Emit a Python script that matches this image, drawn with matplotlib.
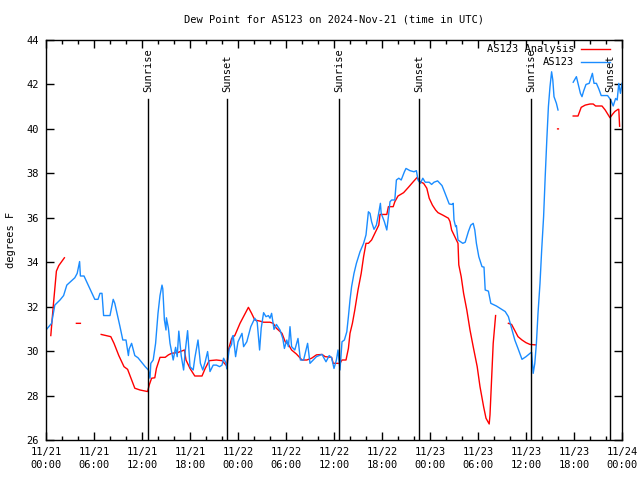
import numpy as np
import pandas as pd
import matplotlib
matplotlib.use('Agg')
import matplotlib.pyplot as plt
import matplotlib.dates as mdates

nan = np.nan
# hours since 2024-11-21 00:00 UTC
obs_hours = [0.0, 0.7, 1.1, 1.75, 2.2, 2.6, 3.2, 3.6, 3.9, 4.2, 4.3, 4.75, 5.5, 6.1, 6.5,
             6.75, 7.0, 7.2, 8.0, 8.4, 8.6, 9.25, 9.6, 10.0, 10.3, 10.4, 10.7, 11.1, 11.5,
             12.4, 12.8, 13.0, 13.1, 13.4, 13.7, 14.0, 14.25, 14.5, 14.6, 14.8, 15.0, 15.05,
             15.3, 15.5, 15.9, 16.2, 16.4, 16.6, 16.9, 17.2, 17.4, 17.7, 18.0, 18.4, 18.6,
             19.0, 19.3, 19.6, 19.9, 20.2, 20.5, 20.9, 21.3, 21.7, 22.0, 22.2, 22.5, 22.6,
             22.9, 23.2, 23.3, 23.4, 23.7, 24.0, 24.5, 24.7, 25.1, 25.6, 26.1, 26.4, 26.7,
             26.9, 27.2, 27.5, 27.8, 28.0, 28.2, 28.5, 28.8, 29.25, 29.6, 29.8, 30.1, 30.3,
             30.5, 30.7, 31.1, 31.5, 31.8, 32.2, 32.5, 32.7, 33.0, 33.4, 33.8, 34.5, 35.0,
             35.4, 35.7, 36.0, 36.3, 36.5, 36.75, 37.0, 37.3, 37.6, 37.8, 38.0, 38.2, 38.5,
             38.8, 39.25, 39.7, 40.0, 40.3, 40.5, 40.7, 41.0, 41.3, 41.6, 41.8, 41.9, 42.3,
             42.6, 42.8, 43.0, 43.2, 43.6, 43.8, 44.1, 44.4, 44.8, 45.0, 45.5, 46.0, 46.3,
             46.5, 46.8, 47.1, 47.4, 47.9, 48.2, 48.5, 48.95, 49.5, 49.8, 50.2, 50.4, 50.75,
             50.9, 51.0, 51.2, 51.3, 51.5, 51.7, 52.1, 52.4, 52.8, 53.1, 53.4, 53.6, 53.8,
             54.1, 54.5, 54.75, 54.9, 55.3, 55.6, 55.9, 56.3, 56.95, 57.4, 57.8, 58.2, 58.6,
             59.0, 59.5, 60.0, 60.5, 60.7, 60.8, 60.9, 61.1, 61.3, 61.5, 61.75, 61.96, 62.2,
             62.4, 62.6, 62.8, 63.0, 63.2, 63.35, 63.5, 63.8, 64.0, 64.5, 65.9, 66.3, 66.6,
             66.8, 67.0, 67.2, 67.5, 67.9, 68.3, 68.5, 68.8, 69.1, 69.4, 69.8, 70.2, 70.6,
             70.9, 71.2, 71.4, 71.6, 71.8, 72.0]
obs_dewpt = [30.95, 31.25, 32.07, 32.3, 32.5, 32.97, 33.17, 33.3, 33.5, 34.03, 33.38, 33.38,
             32.8, 32.33, 32.33, 32.6, 32.6, 31.6, 31.6, 32.33, 32.15, 31.1, 30.5, 30.5, 29.8,
             30.1, 30.35, 29.8, 29.7, 29.3, 29.15, 28.78, 29.45, 29.6, 30.35, 31.7, 32.5,
             32.97, 32.8, 31.4, 30.95, 31.5, 31.03, 30.35, 29.6, 30.17, 29.75, 30.9, 29.8,
             29.15, 29.98, 30.92, 29.3, 29.15, 29.68, 30.5, 29.45, 29.15, 29.52, 29.98, 29.08,
             29.37, 29.37, 29.3, 29.37, 29.68, 29.45, 29.2, 30.1, 30.3, 30.65, 30.7, 29.75,
             30.42, 30.8, 30.2, 30.42, 31.1, 31.48, 31.3, 30.05, 31.03, 31.73, 31.55, 31.6,
             31.48, 31.7, 30.98, 31.2, 30.95, 30.57, 30.12, 30.5, 30.2, 31.1, 30.2, 30.05,
             30.57, 29.6, 29.6, 30.05, 30.35, 29.45, 29.6, 29.75, 29.85, 29.52, 29.8, 29.7,
             29.22, 29.6, 30.05, 29.15, 30.42, 30.5, 30.87, 31.55, 32.3, 32.9, 33.5, 33.95,
             34.47, 34.85, 35.23, 36.27, 36.2, 35.82, 35.48, 35.67, 36.23, 36.65, 36.2, 35.82,
             35.45, 36.05, 36.72, 36.8, 36.8, 37.7, 37.78, 37.7, 38.07, 38.22, 38.12, 38.07,
             38.12, 37.7, 37.55, 37.78, 37.6, 37.6, 37.5, 37.6, 37.66, 37.45, 37.18, 36.8,
             36.62, 36.6, 36.65, 35.9, 35.6, 35.65, 35.0, 34.95, 34.85, 34.9, 35.38, 35.67,
             35.75, 35.45, 34.85, 34.25, 33.8, 33.78, 32.75, 32.7, 32.15, 32.1, 32.03, 31.88,
             31.78, 31.55, 31.03, 30.5, 30.12, 29.63, 29.75, 29.9, 29.95, 29.45, 29.0, 29.45,
             30.35, 31.7, 33.05, 34.55, 36.05, 37.85, 39.5, 41.0, 41.9, 42.57, 42.2, 41.45,
             41.15, 40.85, nan, 42.1, 42.35, 41.9, 41.6, 41.45, 41.7, 42.0, 42.05, 42.5, 42.05,
             42.05, 41.8, 41.5, 41.5, 41.5, 41.3, 41.03, 41.37, 41.3, 42.05, 41.6, 42.05]

ana_hours = [0.6, 0.9, 1.1, 1.3, 1.6, 2.3, 3.0, 3.8, 4.3, 5.0, 6.9, 7.5, 8.1, 8.5, 9.1, 9.75,
             10.2, 10.7, 11.1, 11.75, 12.7, 12.9, 13.2, 13.6, 13.8, 14.25, 14.9, 15.3, 15.7,
             16.5, 17.3, 17.5, 18.0, 18.6, 19.5, 19.9, 20.4, 21.3, 22.0, 22.6, 22.8, 23.2,
             23.6, 24.25, 24.9, 25.3, 25.7, 26.1, 26.75, 27.2, 28.0, 28.4, 28.8, 29.5, 29.9,
             30.3, 30.7, 31.3, 32.0, 32.6, 33.2, 33.8, 34.5, 34.9, 35.7, 35.9, 36.75, 37.0,
             37.5, 37.8, 38.0, 38.3, 38.6, 39.0, 39.4, 39.7, 40.0, 40.3, 40.7, 41.1, 41.6,
             41.75, 42.6, 42.8, 43.4, 43.6, 44.0, 44.7, 45.3, 45.9, 46.4, 46.75, 47.2, 47.6,
             47.9, 48.3, 48.7, 49.0, 49.6, 50.3, 50.5, 50.7, 51.1, 51.5, 51.6, 51.9, 52.2,
             52.6, 53.0, 53.4, 53.9, 54.25, 54.7, 55.0, 55.4, 55.5, 55.7, 55.9, 56.2, 57.0,
             57.8, 58.2, 58.6, 59.0, 59.5, 60.0, 60.5, 61.2, 62.0, 63.95, 64.05, 65.0, 65.9,
             66.5, 66.9, 67.4, 68.0, 68.4, 68.7, 69.5, 69.9, 70.3, 70.5, 70.8, 71.1, 71.5,
             71.6, 71.7]
ana_dewpt = [30.7, 32.0, 32.8, 33.6, 33.85, 34.2, nan, 31.25, 31.25, nan, 30.75, 30.7, 30.65,
             30.35, 29.8, 29.3, 29.18, 28.7, 28.33, 28.25, 28.18, 28.47, 28.78, 28.8, 29.22,
             29.72, 29.72, 29.83, 29.9, 29.94, 30.05, 29.6, 29.22, 28.88, 28.88, 29.22, 29.57,
             29.6, 29.57, 29.33, 30.05, 30.57, 30.7, 31.25, 31.7, 31.97, 31.7, 31.4, 31.35,
             31.3, 31.3, 31.25, 31.03, 30.8, 30.42, 30.3, 30.05, 29.87, 29.6, 29.6, 29.68,
             29.83, 29.85, 29.75, 29.72, 29.45, 29.45, 29.6, 29.6, 30.12, 30.8, 31.25, 31.85,
             32.75, 33.5, 34.25, 34.85, 34.85, 35.0, 35.3, 35.67, 36.15, 36.15, 36.5, 36.5,
             36.72, 36.98, 37.13, 37.37, 37.62, 37.82, 37.62, 37.55, 37.33, 36.88, 36.57,
             36.35, 36.23, 36.12, 35.98, 35.83, 35.45, 35.15, 34.85, 33.88, 33.35, 32.6,
             31.85, 30.95, 30.2, 29.3, 28.4, 27.5, 26.98, 26.72, 27.13, 28.7, 30.35, 31.6,
             nan, 31.25, 31.2, 30.93, 30.65, 30.5, 30.38, 30.3, 30.28, nan, 40.0, 40.0, nan,
             40.58, 40.58, 40.97, 41.07, 41.12, 41.12, 41.03, 41.03, 40.85, 40.62, 40.5,
             40.65, 40.78, 40.88, 40.88, 40.12]

sunrise_hours = [12.75, 36.6, 60.6]
sunset_hours = [22.65, 46.65, 70.5]

base = pd.Timestamp('2024-11-21 00:00')
def to_time(h):
    return base + pd.to_timedelta(np.array(h), unit='h')

mono = 'DejaVu Sans Mono'
fs = 7.5

fig = plt.figure(figsize=(6.4, 4.8), dpi=100)
ax = fig.add_axes([46/640, 40/480, 576/640, 400/480])

ax.plot(to_time(ana_hours), ana_dewpt, color='#ff0000', lw=1.0)
ax.plot(to_time(obs_hours), obs_dewpt, color='#1a8cff', lw=1.0)

for h in sunrise_hours:
    t = to_time([h])[0]
    ax.axvline(t, ymin=0, ymax=0.8525, color='black', lw=1.0)
    ax.text(t, 0.87, 'Sunrise', transform=ax.get_xaxis_transform(), rotation=90,
            ha='center', va='bottom', family=mono, fontsize=fs)
for h in sunset_hours:
    t = to_time([h])[0]
    ax.axvline(t, ymin=0, ymax=0.8525, color='black', lw=1.0)
    ax.text(t, 0.87, 'Sunset', transform=ax.get_xaxis_transform(), rotation=90,
            ha='center', va='bottom', family=mono, fontsize=fs)

ax.set_xlim(base, base + pd.Timedelta(hours=72))
ax.set_ylim(26, 44)
ax.set_yticks(np.arange(26, 45, 2))
ax.xaxis.set_major_locator(mdates.HourLocator(byhour=range(0, 24, 6)))
ax.xaxis.set_minor_locator(mdates.HourLocator(byhour=range(0, 24, 2)))
ax.xaxis.set_major_formatter(mdates.DateFormatter('%m/%d\n%H:%M'))
ax.tick_params(which='both', direction='in', top=True, right=True, width=1.0)
ax.tick_params(which='major', length=6)
ax.tick_params(which='minor', length=3)
ax.tick_params(axis='x', pad=5)
ax.tick_params(axis='y', pad=5)
for lab in ax.get_xticklabels() + ax.get_yticklabels():
    lab.set_family(mono)
    lab.set_fontsize(fs)
    lab.set_linespacing(1.4)
for sp in ax.spines.values():
    sp.set_linewidth(1.0)

# legend, gnuplot style
leg = [('AS123 Analysis', '#ff0000', 0.9775), ('AS123', '#1a8cff', 0.945)]
for name, col, yy in leg:
    ax.text(0.9167, yy, name, transform=ax.transAxes, ha='right', va='center',
            family=mono, fontsize=fs)
    ax.plot([0.929, 0.979], [yy, yy], transform=ax.transAxes, color=col, lw=1.0)

fig.text(0.522, 0.96, 'Dew Point for AS123 on 2024-Nov-21 (time in UTC)',
         ha='center', va='center', family=mono, fontsize=fs)
fig.text(0.017, 0.5, 'degrees F', rotation=90, ha='center', va='center',
         family=mono, fontsize=fs)

fig.savefig('out.png', dpi=100)
